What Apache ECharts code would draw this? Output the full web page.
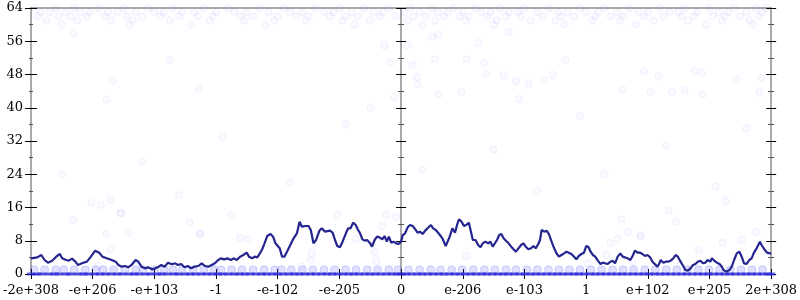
<!DOCTYPE html>
<html><head><meta charset="utf-8">
<script src="https://cdn.jsdelivr.net/npm/echarts@6/dist/echarts.min.js"></script>
<style>html,body{margin:0;padding:0;background:#fff}#c{width:800px;height:300px}</style>
</head><body><div id="c"></div>
<script>
const tickLabels = ['-2e+308','-e+206','-e+103','-1','-e-102','-e-205','0','e-206','e-103','1','e+102','e+205','2e+308'];
const yTicks = [0, 8, 16, 24, 32, 40, 48, 56, 64];

const lineX = [-6,-5.898,-5.833,-5.780,-5.726,-5.657,-5.592,-5.533,-5.496,-5.431,-5.388,-5.335,-5.281,-5.239,-5.174,-5.094,-5.029,-4.959,-4.895,-4.842,-4.772,-4.692,-4.627,-4.584,-4.531,-4.477,-4.423,-4.370,-4.305,-4.262,-4.209,-4.155,-4.102,-4.037,-3.984,-3.930,-3.888,-3.834,-3.780,-3.716,-3.662,
-3.619,-3.566,-3.512,-3.458,-3.405,-3.351,-3.287,-3.233,-3.180,-3.126,-3.072,-3.019,-2.965,-2.922,-2.869,-2.815,-2.761,-2.708,-2.665,-2.611,-2.558,-2.504,-2.466,-2.413,-2.375,-2.332,-2.289,-2.252,-2.214,-2.171,-2.118,-2.075,-2.037,-2.011,-1.968,-1.930,-1.892,-1.850,-1.796,-1.743,-1.689,-1.646,-1.608,-1.554,-1.501,-1.464,-1.421,-1.378,-1.324,-1.287,-1.233,
-1.206,-1.153,-1.110,-1.072,-1.035,-0.992,-0.949,-0.895,-0.858,-0.820,-0.777,-0.735,-0.697,-0.670,-0.627,-0.590,-0.552,-0.509,-0.472,-0.429,-0.391,-0.349,-0.306,-0.268,-0.231,-0.198,-0.161,-0.123,-0.080,-0.038,0.000,0.027,0.064,0.107,0.145,0.188,0.230,0.268,0.306,0.349,0.391,0.429,0.483,0.520,0.563,0.617,0.670,0.724,0.751,0.788,0.831,0.874,0.912,0.938,0.981,1.019,1.056,1.099,1.126,1.163,
1.206,1.249,1.287,1.324,1.367,1.410,1.448,1.485,1.517,1.555,1.592,1.625,1.662,1.700,1.743,1.785,1.823,1.861,1.903,1.946,1.984,2.021,2.064,2.107,2.145,2.182,2.225,2.252,2.279,2.322,2.359,2.397,2.440,2.482,2.520,2.558,2.600,2.643,2.681,2.718,2.761,2.804,2.842,2.879,2.922,2.965,3.003,3.040,3.072,3.110,3.147,3.190,3.233,3.271,3.308,3.351,3.394,3.431,3.469,3.512,3.555,3.592,
3.619,3.673,3.716,3.753,3.791,3.834,3.876,3.914,3.952,3.995,4.037,4.075,4.113,4.155,4.182,4.209,4.252,4.290,4.327,4.370,4.413,4.450,4.488,4.531,4.573,4.611,4.649,4.692,4.734,4.772,4.809,4.852,4.895,4.932,4.970,5.013,5.040,5.077,5.120,5.163,5.201,5.228,5.270,5.324,5.361,5.399,5.442,5.485,5.522,5.560,5.603,5.646,5.683,5.721,5.764,5.791,5.818,5.844,5.871,5.898,5.935,5.978,6.0];

const lineY = [3.77,4.01,4.57,3.37,2.73,3.21,4.17,4.81,3.77,3.37,3.21,3.69,2.97,2.17,2.57,2.97,4.17,5.61,5.13,4.17,3.77,3.37,2.97,2.17,1.76,1.92,1.60,2.17,3.37,2.97,1.76,1.36,1.60,1.12,1.36,1.76,2.17,1.76,2.73,2.33,2.57,
2.17,2.41,1.60,1.92,1.36,1.76,1.92,2.57,1.92,1.76,2.17,2.57,3.37,3.77,3.53,3.77,3.37,3.77,3.37,4.17,4.57,5.13,4.17,3.77,4.17,4.01,4.97,5.94,7.38,9.14,9.62,8.98,7.38,7.78,6.18,4.17,4.17,5.37,6.98,8.58,9.79,12.59,11.39,11.55,11.55,10.59,7.38,8.18,10.43,10.99,10.19,
9.79,10.43,9.95,8.18,6.74,6.42,7.78,9.79,10.99,10.99,12.35,11.79,10.59,9.95,8.34,8.02,8.18,7.54,6.58,8.18,8.98,8.82,8.34,9.14,7.78,8.98,7.54,7.78,7.38,7.22,7.78,9.38,9.79,11.23,11.79,11.55,10.75,9.95,10.19,9.62,10.43,10.99,11.79,10.99,10.59,9.62,8.58,6.74,6.98,8.98,10.99,9.95,12.03,13.15,12.59,11.55,11.79,12.35,10.59,8.18,
8.18,6.98,6.42,7.38,7.78,7.38,7.78,6.58,6.18,8.18,9.38,9.62,8.58,8.02,7.38,6.58,5.94,5.37,6.18,6.98,7.38,6.58,5.94,6.18,6.74,6.18,7.22,8.18,10.59,10.19,10.43,9.62,7.78,6.18,4.97,4.17,4.57,4.97,5.37,5.13,4.81,4.17,3.53,4.33,4.81,5.13,6.74,6.42,5.37,4.57,4.17,3.21,2.41,2.73,2.57,2.41,2.97,3.21,2.57,4.17,4.97,4.17,
3.77,3.77,3.37,4.33,5.61,5.13,5.13,4.81,4.33,4.57,4.01,2.97,2.41,1.76,2.41,3.37,2.73,2.97,2.97,3.21,3.77,4.57,4.17,2.97,1.92,0.96,0.80,1.36,2.17,2.41,2.97,3.21,2.57,2.73,3.37,2.97,3.77,3.21,2.73,2.41,1.76,0.96,0.56,0.96,1.76,3.37,4.97,5.37,4.17,2.57,2.41,3.37,3.77,5.13,6.18,5.94,7.78,6.98,6.58,5.77,5.13,4.97,4.97];

const zeroX = [-6.0,-5.9,-5.83,-5.71,-5.62,-5.55,-5.43,-5.36,-5.24,-5.15,-5.08,-4.97,-4.88,-4.79,-4.7,-4.6,-4.52,-4.41,-4.33,-4.25,-4.14,-4.06,-3.95,-3.88,-3.79,-3.68,-3.61,-3.5,-3.42,-3.33,-3.24,-3.15,-3.06,-2.97,-2.89,-2.8,-2.7,-2.62,-2.53,-2.45,-2.35,-2.26,-2.18,-2.09,-2.0,-1.91,-1.82,-1.73,-1.65,-1.56,-1.47,-1.38,-1.29,-1.2,-1.12,-1.03,-0.94,-0.85,-0.77,-0.68,-0.59,-0.5,-0.42,-0.33,-0.24,-0.15,-0.07,0.0,0.08,0.17,0.26,0.34,0.43,0.52,0.61,0.69,0.78,0.87,0.96,1.04,1.13,1.22,1.31,1.39,1.48,1.57,1.66,1.74,1.83,1.92,2.01,2.1,2.18,2.27,2.36,2.45,2.53,2.62,2.71,2.8,2.88,2.97,3.06,3.15,3.23,3.32,3.41,3.5,3.58,3.67,3.76,3.85,3.93,4.02,4.11,4.2,4.28,4.37,4.46,4.55,4.63,4.72,4.81,4.9,4.98,5.07,5.16,5.25,5.33,5.42,5.51,5.6,5.68,5.77,5.86,5.95,6.0];
const oneX = [-5.95,-5.78,-5.6,-5.47,-5.3,-5.12,-4.95,-4.83,-4.66,-4.48,-4.3,-4.18,-4.0,-3.84,-3.7,-3.55,-3.37,-3.2,-3.03,-2.92,-2.75,-2.58,-2.4,-2.22,-2.05,-1.94,-1.78,-1.6,-1.43,-1.25,-1.08,-0.9,-0.73,-0.55,-0.38,-0.2,-0.05,0.12,0.3,0.48,0.64,0.82,0.99,1.17,1.35,1.52,1.7,1.86,2.04,2.21,2.39,2.56,2.73,2.9,3.08,3.25,3.43,3.6,3.77,3.95,4.12,4.3,4.47,4.64,4.82,4.99,5.16,5.34,5.51,5.69,5.86];
const top64X = [-5.95,-5.6,-5.3,-4.9,-4.5,-4.1,-3.7,-3.2,-2.8,-2.3,-1.9,-1.4,-1.0,-0.6,-0.2,0.15,0.5,0.85,1.2,1.6,2.0,2.4,2.9,3.3,3.7,4.2,4.6,5.0,5.4,5.75,5.92];
const top63X = [-5.85,-5.7,-5.45,-5.2,-5.05,-4.75,-4.6,-4.3,-4.0,-3.85,-3.55,-3.35,-3.0,-2.7,-2.5,-2.15,-1.8,-1.6,-1.25,-1.1,-0.8,-0.45,-0.3,0.05,0.3,0.6,0.75,1.0,1.3,1.45,1.75,1.9,2.2,2.55,2.7,3.0,3.2,3.5,3.85,4.0,4.35,4.5,4.8,5.15,5.3,5.6,5.85];
const top62X = [-5.9,-5.55,-5.35,-5.1,-4.8,-4.45,-4.2,-3.9,-3.6,-3.3,-3.05,-2.6,-2.4,-2.0,-1.7,-1.5,-1.15,-0.9,-0.7,-0.35,-0.1,0.2,0.4,0.7,0.95,1.1,1.4,1.7,1.95,2.3,2.6,2.8,3.15,3.4,3.6,3.95,4.25,4.55,4.75,5.05,5.25,5.5,5.8];
const top61X = [-5.75,-5.25,-4.7,-4.35,-3.75,-3.1,-2.55,-2.05,-1.55,-0.95,-0.5,0.1,0.55,1.05,1.55,2.1,2.5,3.1,3.55,4.1,4.65,5.2,5.65];
const top60X = [-5.5,-4.4,-3.4,-2.2,-0.75,0.35,1.5,2.65,3.8,4.95,5.7];
const midPoints = [[-5.31,58],[-3.75,51.5],[-4.68,46.4],[-3.28,44.7],[-4.78,42],[0.51,57],[0.60,57.5],[1.25,55.6],[-0.27,55],[0.10,55],[0.55,51.7],[1.06,51.7],[1.35,50.8],[-0.18,50.8],[0.19,50.3],[2.67,51.5],[0.26,47.4],[1.38,48.1],[1.66,47.9],[1.87,46.4],[2.07,45.9],[2.32,46.7],[2.46,47.9],[0.27,45.7],[0.98,43.8],[0.61,43.3],[-0.11,42.6],[1.91,42.1],[1.75,58.2],[3.94,48.8],[4.17,47.6],[4.76,48.8],[4.87,48.4],[5.44,46.9],[5.84,47.2],[3.60,44.3],[4.04,43.8],[4.39,43.8],[4.60,44.3],[5.81,43.6],[4.89,43.3],
[-5.32,13],[-4.54,14.7],[-4.78,9.6],[-4.42,9.9],[-4.71,6],[-4.91,1.9],[-3.43,12.5],[-2.75,14.2],[-3.25,9.6],[-2.61,8.7],[-2.48,8.4],[-1.45,5],[-1.46,3.4],[-1.62,1.9],[-1.03,14.2],[-0.24,14.2],[-0.08,13.7],[-0.74,8.4],[-0.43,5.3],[-0.40,3.1],[1.06,4.3],[-0.31,11.5],[3.57,13.2],[3.51,8.4],[3.39,7.5],[3.67,10.1],[3.02,2.6],[3.33,4.6],[3.89,9.1],[4.46,12.5],[4.83,5.8],[5.21,7.5],[5.52,8.2],[5.76,10.1],[3.75,2.9],[4.34,15.2],[-5.02,17.1],[-4.87,16.6],[-4.71,17.8],[-4.55,14.6],[-3.27,9.8],[5.26,17.6],[3.88,9.4],
[-4.2,27],[-2.9,33],[-1.8,22],[-0.9,36],[0.35,25],[1.5,30],[2.2,20],[2.9,38],[3.3,24],[4.3,31],[5.1,21],[5.6,35],[-5.5,24],[-3.6,19],[-0.5,40]];

const font = 'DejaVu Serif';
const gray = '#aaaaaa';
function yAx(opts) {
  return Object.assign({
    type: 'value', min: 0, max: 64, interval: 8, position: 'left',
    axisLine: { show: false, onZero: false },
    axisTick: { show: true, length: 6, inside: false, lineStyle: { color: '#000', width: 1 } },
    minorTick: { show: true, splitNumber: 2, length: 2, lineStyle: { color: '#555', width: 1 } },
    axisLabel: { show: false },
    splitLine: { show: false }
  }, opts);
}
const chart = echarts.init(document.getElementById('c'), null, { renderer: 'canvas' });
const scatterStyle = { color: 'rgba(70,70,255,0.035)', borderColor: 'rgba(70,70,255,0.09)', borderWidth: 1 };
chart.setOption({
  animation: false,
  grid: { left: 28, right: 26, top: 8, bottom: 26, show: false },
  xAxis: [
    { type: 'value', min: -6, max: 6, interval: 1, position: 'bottom',
      axisLine: { show: true, onZero: false, lineStyle: { color: gray, width: 2 } },
      axisTick: { show: true, length: 5, lineStyle: { color: '#000' } },
      axisLabel: { show: true, margin: 10, fontFamily: font, fontSize: 13, color: '#000',
        showMinLabel: true, showMaxLabel: true,
        formatter: v => tickLabels[Math.round(v) + 6] },
      splitLine: { show: false } },
    { type: 'value', min: -6, max: 6, interval: 1, position: 'bottom',
      axisLine: { show: false, onZero: false },
      axisTick: { show: true, inside: true, length: 5, lineStyle: { color: '#000' } },
      axisLabel: { show: false }, splitLine: { show: false } },
    { type: 'value', min: -6, max: 6, interval: 1, position: 'top',
      axisLine: { show: true, onZero: false, lineStyle: { color: gray, width: 2 } },
      axisTick: { show: false }, axisLabel: { show: false }, splitLine: { show: false } }
  ],
  yAxis: [
    yAx({ axisLine: { show: true, onZero: false, lineStyle: { color: gray, width: 2 } },
          axisLabel: { show: true, margin: 8, fontFamily: font, fontSize: 13, color: '#000' } }),
    yAx({ axisTick: { show: true, inside: true, length: 6, lineStyle: { color: '#000' } } }),
    yAx({ axisLine: { show: true, onZero: true, lineStyle: { color: gray, width: 2 } },
          axisTick: { show: true, length: 5, lineStyle: { color: '#000' } },
          minorTick: { show: true, splitNumber: 2, length: 3, lineStyle: { color: '#555' } } }),
    yAx({ axisLine: { show: false, onZero: true },
          axisTick: { show: true, inside: true, length: 5, lineStyle: { color: '#000' } },
          minorTick: { show: true, splitNumber: 2, length: 3, lineStyle: { color: '#555' } } }),
    yAx({ position: 'right', axisLine: { show: true, onZero: false, lineStyle: { color: gray, width: 2 } },
          axisTick: { show: true, length: 5, lineStyle: { color: '#000' } },
          minorTick: { show: true, splitNumber: 2, length: 3, lineStyle: { color: '#555' } } }),
    yAx({ position: 'right',
          axisTick: { show: true, inside: true, length: 5, lineStyle: { color: '#000' } },
          minorTick: { show: true, splitNumber: 2, length: 3, lineStyle: { color: '#555' } } })
  ],
  series: [
    { type: 'scatter', symbolSize: 7, itemStyle: scatterStyle, data: top64X.map(x => [x, 64]) },
    { type: 'scatter', symbolSize: 7, itemStyle: scatterStyle, data: top63X.map(x => [x, 63]) },
    { type: 'scatter', symbolSize: 7, itemStyle: scatterStyle, data: top62X.map(x => [x, 62]) },
    { type: 'scatter', symbolSize: 7, itemStyle: scatterStyle, data: top61X.map(x => [x, 61]) },
    { type: 'scatter', symbolSize: 7, itemStyle: scatterStyle, data: top60X.map(x => [x, 60]) },
    { type: 'scatter', symbolSize: 7, itemStyle: scatterStyle, data: midPoints },
    { type: 'scatter', symbolSize: 8, itemStyle: { color: 'rgba(70,70,255,0.2)', borderColor: 'rgba(70,70,255,0.25)', borderWidth: 1 }, data: oneX.map(x => [x, 1]) },
    { type: 'scatter', symbol: 'rect', symbolSize: [8, 3], itemStyle: { color: 'rgba(45,45,225,0.9)' }, data: zeroX.map(x => [x, 0]) },
    { type: 'line', showSymbol: false, symbol: 'none', smooth: false,
      lineStyle: { color: '#25258f', width: 2.2 },
      data: lineX.map((x, i) => [x, lineY[i]]) }
  ]
});
</script></body></html>
